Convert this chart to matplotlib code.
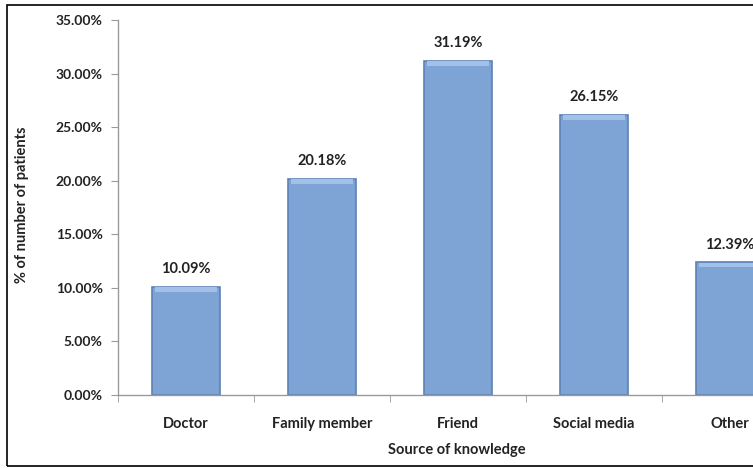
import matplotlib.pyplot as plt
from matplotlib.patches import Rectangle
from matplotlib.ticker import FuncFormatter

sources = ['Doctor', 'Family member', 'Friend', 'Social media', 'Other']
percents = [10.09, 20.18, 31.19, 26.15, 12.39]
y_ticks = [0, 5, 10, 15, 20, 25, 30, 35]

plt.rcParams['font.family'] = ['Lato', 'DejaVu Sans']
plt.rcParams['font.weight'] = 'bold'

fig = plt.figure(figsize=(7.53, 4.68), dpi=100)
W, H = 753.0, 468.0

# axes runs off the right edge like in the cropped original
ax = fig.add_axes([118 / W, (H - 395) / H, 680 / W, 375 / H])

x = list(range(len(sources)))
ax.bar(x, percents, width=0.5, color='#7EA4D6', edgecolor='#5F82B6', linewidth=1.2, zorder=2)
# light band along the top of each bar
ax.bar(x, [0.4] * len(x), bottom=[p - 0.45 for p in percents], width=0.46,
       color='#A3C1E8', linewidth=0, zorder=3)

for xi, p in zip(x, percents):
    ax.text(xi, p + 1.0, '%.2f%%' % p, ha='center', va='bottom',
            fontsize=10.5, fontweight='bold', color='#222222')

ax.set_xlim(-0.5, 4.5)
ax.set_ylim(0, 35)
ax.set_yticks(y_ticks)
ax.yaxis.set_major_formatter(FuncFormatter(lambda v, pos: '%.2f%%' % v))
ax.set_xticks(x)
ax.set_xticklabels(sources)
ax.set_xticks([i - 0.5 for i in range(len(sources) + 1)], minor=True)

ax.tick_params(axis='y', length=5, color='#9a9a9a', labelsize=10, pad=6, labelcolor='#222222')
ax.tick_params(axis='x', which='major', length=0, labelsize=10.5, pad=16, labelcolor='#222222')
ax.tick_params(axis='x', which='minor', length=5, color='#9a9a9a')

for side in ['top', 'right']:
    ax.spines[side].set_visible(False)
for side in ['left', 'bottom']:
    ax.spines[side].set_color('#9a9a9a')
    ax.spines[side].set_linewidth(1)

fig.text(457 / W, 1 - 450 / H, 'Source of knowledge', ha='center', va='center',
         fontsize=10.5, fontweight='bold', color='#222222')
fig.text(22 / W, 1 - 205 / H, '% of number of patients', ha='center', va='center',
         rotation=90, fontsize=10.5, fontweight='bold', color='#222222')

# outer chart border (right edge is cropped away)
fig.patches.append(Rectangle((7 / W, 2 / H), 1.2, 461 / H, transform=fig.transFigure,
                             fill=False, edgecolor='black', linewidth=1.2))

fig.savefig('out.png', dpi=100)
